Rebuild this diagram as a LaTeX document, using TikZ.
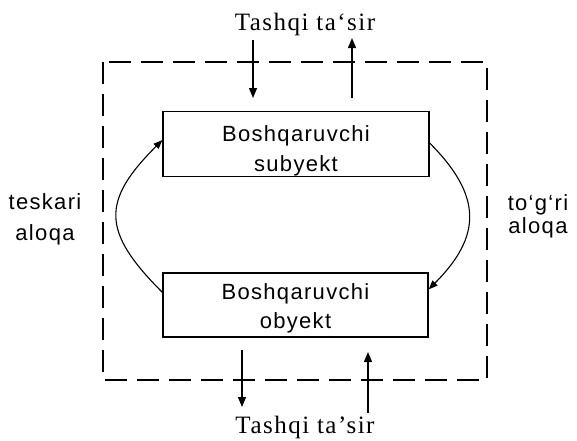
\documentclass[tikz,border=0pt]{standalone}
\usepackage{fontspec}
\setmainfont{Liberation Serif}
\newfontfamily\boxfont[LetterSpace=6]{Liberation Sans}
\newfontfamily\capfont[LetterSpace=6]{Liberation Serif}
\usetikzlibrary{arrows.meta}
\newcommand{\lift}[1]{\rule{0pt}{#1}}
\tikzset{
  block/.style={draw, line width=1.3pt, inner sep=0pt, align=center,
    font=\boxfont\fontsize{22}{30}\selectfont},
  dashframe/.style={line width=1.6pt, dash pattern=on 22pt off 10pt},
  flow/.style={line width=1.3pt, -{Triangle[length=10pt,width=8pt]}},
  feedback/.style={line width=1.1pt, -{Triangle[length=9pt,width=7pt]}},
  side/.style={align=center, font=\boxfont\fontsize{22}{31}\selectfont},
  outer/.style={anchor=base, font=\capfont\fontsize{25}{28}\selectfont},
}
\begin{document}
\begin{tikzpicture}[x=1pt,y=-1pt]
  \useasboundingbox (0,0) rectangle (577,440);
  \draw[dashframe] (103,62) rectangle (487,380);
  \node[block, minimum width=266pt, minimum height=62pt] (subj) at (296,144)
    {\lift{30pt}Boshqaruvchi\\subyekt};
  \node[block, minimum width=265pt, minimum height=64pt, font=\boxfont\fontsize{22}{29}\selectfont] (obj) at (295.5,305)
    {\lift{22pt}Boshqaruvchi\\obyekt};
  \node[outer] (topin) at (305,30) {Tashqi ta‘sir};
  \node[outer] (botin) at (305,433) {Tashqi ta’sir};
  \node[side] (left) at (45,219) {teskari\\aloqa};
  \node[side, font=\boxfont\fontsize{22}{23}\selectfont] (right) at (538,216) {to‘g‘ri\\aloqa};
  % external arrows
  \coordinate (a1) at (253,40);  \coordinate (a2) at (253,98);
  \coordinate (b1) at (352,98);  \coordinate (b2) at (352,38);
  \coordinate (c1) at (242,350); \coordinate (c2) at (242,407);
  \coordinate (d1) at (368,413); \coordinate (d2) at (368,352);
  \draw[flow] (a1) -- (a2);
  \draw[flow] (b1) -- (b2);
  \draw[flow] (c1) -- (c2);
  \draw[flow] (d1) -- (d2);
  % loops between the two blocks
  \draw[feedback] ([yshift=-20pt]obj.north west) .. controls +(-61,-61) and +(-61,61) .. ([yshift=-29pt]subj.north west);
  \draw[feedback] ([yshift=-32pt]subj.north east) .. controls +(53,53) and +(53,-53) .. ([yshift=-17pt]obj.north east);
\end{tikzpicture}
\end{document}
